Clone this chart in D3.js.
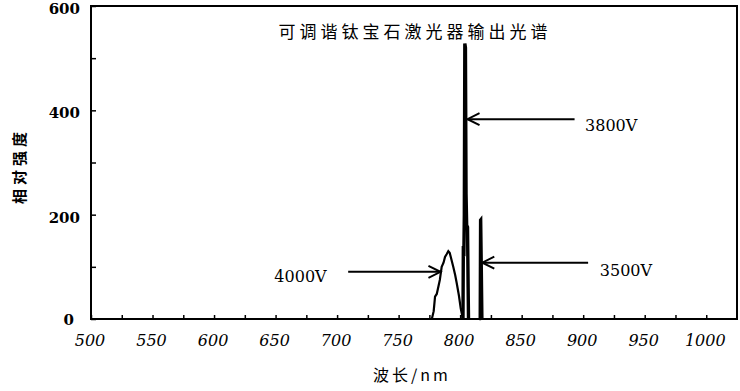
<!DOCTYPE html>
<html>
<head>
<meta charset="utf-8">
<script src="https://cdn.jsdelivr.net/npm/d3@7"></script>
<style>
  html, body { margin: 0; padding: 0; background: #fff; }
  svg { display: block; }
</style>
</head>
<body>
<svg id="chart" width="740" height="391"></svg>
<script>
// ---- data ----
const chartTitle = "可调谐钛宝石激光器输出光谱";
const xAxisTitle = "波长/nm";
const yAxisTitle = "相对强度";
const xTickLabels = [500, 550, 600, 650, 700, 750, 800, 850, 900, 950, 1000];
const yTickLabels = [0, 200, 400, 600];

const wavelength4000 = [777, 778.5, 779.6, 781, 782.3, 783.5, 785, 786.5, 787.7, 789, 790.4, 791.5, 792.5, 794.4, 796, 797.2, 799, 800.5, 802.3];
const intensity4000  = [0, 15, 43, 48, 62, 75, 100, 108, 119, 124, 130, 127, 118, 100, 84, 69, 45, 20, 0];

const wavelength3800 = [802.3, 802.6, 803.0, 803.4, 803.8, 804.3, 804.8, 805.3, 806.0, 806.5, 806.8];
const intensity3800  = [0, 140, 120, 200, 528, 520, 240, 180, 176, 60, 0];

const wavelength3500 = [815.5, 816.0, 816.3, 817.0, 817.5, 818.0];
const intensity3500  = [0, 0, 190, 192, 100, 0];

const baselineWavelength = [500, 1025];
const baselineIntensity = [0, 0];

const seriesLabels = ["4000V", "3800V", "3500V"];
// arrow start / tip / label anchor, in data units
const arrowFrom  = [[709, 90.5], [893, 383], [904, 108]];
const arrowTo    = [[784, 90.5], [806, 383], [818, 108]];
const labelAt    = [[691.5, 82], [901.5, 372], [913.5, 94]];
const labelAnchor = ["end", "start", "start"];

// ---- drawing ----
const svg = d3.select("#chart");
const x = d3.scaleLinear().domain([500, 1025]).range([91, 737]);
const y = d3.scaleLinear().domain([0, 600]).range([319, 6]);

const serif = "'DejaVu Serif', 'Liberation Serif', serif";
const cjk = "'Noto Sans CJK SC', sans-serif";

// frame
svg.append("rect")
  .attr("x", x(500)).attr("y", y(600))
  .attr("width", x(1025) - x(500)).attr("height", y(0) - y(600))
  .attr("fill", "none").attr("stroke", "#000").attr("stroke-width", 2);

// x axis ticks (inward)
const xAxis = d3.axisBottom(x)
  .tickValues(d3.range(500, 1025, 25))
  .tickSizeInner(-4).tickSizeOuter(0)
  .tickFormat(() => "");
const gx = svg.append("g").attr("transform", `translate(0,${y(0)})`).call(xAxis);
gx.select(".domain").remove();
gx.selectAll("line").attr("stroke", "#000").attr("stroke-width", 1.5);

svg.append("g").selectAll("text").data(xTickLabels).join("text")
  .attr("x", d => x(d) - 1).attr("y", 346)
  .attr("text-anchor", "middle")
  .attr("font-family", serif).attr("font-style", "italic")
  .attr("font-size", 16).text(d => d);

// y axis ticks (inward)
const yAxis = d3.axisLeft(y)
  .tickValues(d3.range(0, 700, 100))
  .tickSizeInner(-5).tickSizeOuter(0)
  .tickFormat(() => "");
const gy = svg.append("g").attr("transform", `translate(${x(500)},0)`).call(yAxis);
gy.select(".domain").remove();
gy.selectAll("line").attr("stroke", "#000").attr("stroke-width", 1.5);

svg.append("g").selectAll("text").data(yTickLabels).join("text")
  .attr("x", d => d === 0 ? 74 : 80).attr("y", d => y(d) + 8 + (d === 0 ? -2 : 0))
  .attr("text-anchor", "end")
  .attr("font-family", serif).attr("font-weight", "bold")
  .attr("font-size", 15).text(d => d);

// spectra
const line = d3.line().x(d => x(d[0])).y(d => y(d[1]));
const zip = (a, b) => a.map((v, i) => [v, b[i]]);

svg.append("path").datum(zip(baselineWavelength, baselineIntensity))
  .attr("d", line).attr("fill", "none").attr("stroke", "#000").attr("stroke-width", 2);
svg.append("path").datum(zip(wavelength4000, intensity4000))
  .attr("d", line).attr("fill", "none").attr("stroke", "#000").attr("stroke-width", 2.2);
svg.append("path").datum(zip(wavelength3800, intensity3800))
  .attr("d", line).attr("fill", "none").attr("stroke", "#000").attr("stroke-width", 3.4)
  .attr("stroke-linejoin", "miter");
svg.append("path").datum(zip(wavelength3500, intensity3500))
  .attr("d", line).attr("fill", "none").attr("stroke", "#000").attr("stroke-width", 2.6);

// arrows and labels
seriesLabels.forEach((lab, i) => {
  const x0 = x(arrowFrom[i][0]), y0 = y(arrowFrom[i][1]);
  const x1 = x(arrowTo[i][0]), y1 = y(arrowTo[i][1]);
  const dir = Math.sign(x1 - x0);
  svg.append("line").attr("x1", x0).attr("y1", y0).attr("x2", x1).attr("y2", y1)
    .attr("stroke", "#000").attr("stroke-width", 2);
  svg.append("path")
    .attr("d", `M${x1 - dir * 12},${y1 - 6} L${x1},${y1} L${x1 - dir * 12},${y1 + 6}`)
    .attr("fill", "none").attr("stroke", "#000").attr("stroke-width", 2);
  svg.append("text")
    .attr("x", x(labelAt[i][0])).attr("y", y(labelAt[i][1]) + 6)
    .attr("text-anchor", labelAnchor[i])
    .attr("font-family", serif).attr("font-size", 16)
    .text(lab);
});

// title
svg.append("text").attr("x", 415).attr("y", 38)
  .attr("text-anchor", "middle")
  .attr("font-family", cjk).attr("font-size", 17).attr("letter-spacing", 4)
  .text(chartTitle);

// axis titles
svg.append("text").attr("x", 412).attr("y", 381)
  .attr("text-anchor", "middle")
  .attr("font-family", cjk).attr("font-size", 16).attr("letter-spacing", 3)
  .text(xAxisTitle);

svg.append("text")
  .attr("transform", `translate(25,166) rotate(-90)`)
  .attr("text-anchor", "middle")
  .attr("font-family", cjk).attr("font-weight", "bold").attr("font-size", 15).attr("letter-spacing", 4)
  .text(yAxisTitle);
</script>
</body>
</html>
